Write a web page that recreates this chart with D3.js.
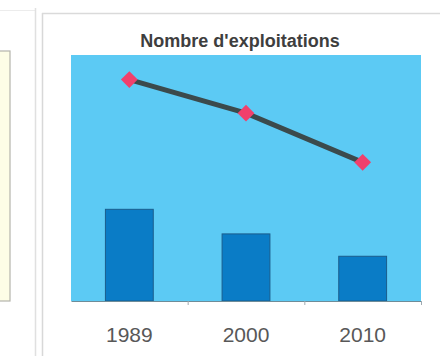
<!DOCTYPE html>
<html>
<head>
<meta charset="utf-8">
<script src="https://cdn.jsdelivr.net/npm/d3@7"></script>
<style>
  html, body { margin: 0; padding: 0; background: #fff; }
  svg { display: block; }
</style>
</head>
<body>
<svg id="chart" width="440" height="356"></svg>
<script>
// Farm counts by census year
const years = ["1989", "2000", "2010"];
const barValues = [41, 30, 20];
const lineValues = [99, 84, 62];
const chartTitle = "Nombre d'exploitations";

const svg = d3.select("#chart");
const W = 440, H = 356;
const plot = { left: 71, right: 421, top: 55, bottom: 301 };

// Neighbouring panel on the left and panel frame
svg.append("line").attr("x1", 0).attr("x2", 35).attr("y1", 10.5).attr("y2", 10.5)
  .attr("stroke", "#ececec").attr("stroke-width", 1);
svg.append("rect")
  .attr("x", -2).attr("y", 51).attr("width", 12).attr("height", 250)
  .attr("fill", "#fdfde6").attr("stroke", "#b4b4ac").attr("stroke-width", 1.2);
svg.append("line").attr("x1", 35.5).attr("x2", 35.5).attr("y1", 8).attr("y2", H)
  .attr("stroke", "#e0e0e0").attr("stroke-width", 1.5);
svg.append("line").attr("x1", 42.5).attr("x2", 42.5).attr("y1", 13).attr("y2", H)
  .attr("stroke", "#d8d8d8").attr("stroke-width", 1.5);
svg.append("line").attr("x1", 42).attr("x2", W).attr("y1", 13.5).attr("y2", 13.5)
  .attr("stroke", "#dadada").attr("stroke-width", 1.5);

const x = d3.scaleBand().domain(years).range([plot.left, plot.right]).paddingInner(0.59).paddingOuter(0.295);
const xc = d3.scalePoint().domain(years).range([plot.left, plot.right]).padding(0.5);
const y = d3.scaleLinear().domain([0, 110]).range([plot.bottom, plot.top]);

// Plot area
svg.append("rect")
  .attr("x", plot.left).attr("y", plot.top)
  .attr("width", plot.right - plot.left).attr("height", plot.bottom - plot.top)
  .attr("fill", "#5ccaf4");

// Bars
svg.append("g").selectAll("rect").data(years).join("rect")
  .attr("x", d => x(d))
  .attr("y", (d, i) => y(barValues[i]))
  .attr("width", x.bandwidth())
  .attr("height", (d, i) => y(0) - y(barValues[i]))
  .attr("fill", "#0a7cc6")
  .attr("stroke", "#1b5d8c").attr("stroke-width", 1);

// Category axis: separators between the years
const axis = d3.axisBottom(d3.scaleLinear().domain([0, 3]).range([plot.left, plot.right]))
  .tickValues([1, 2, 3]).tickSizeInner(4).tickSizeOuter(0).tickFormat("");
const ag = svg.append("g").attr("transform", `translate(0,${plot.bottom})`).call(axis);
ag.select(".domain").attr("stroke", "#6f8c98").attr("stroke-width", 1.2);
ag.selectAll(".tick line").attr("stroke", "#a0aab0");

svg.append("g").selectAll("text").data(years).join("text")
  .attr("x", d => xc(d))
  .attr("y", 342)
  .attr("text-anchor", "middle")
  .attr("font-family", "Liberation Sans, Arial, sans-serif")
  .attr("font-size", 21)
  .attr("fill", "#585858")
  .text(d => d);

// Line series with diamond markers
const line = d3.line().x((d, i) => xc(years[i])).y(d => y(d));
svg.append("path").datum(lineValues)
  .attr("d", line)
  .attr("fill", "none")
  .attr("stroke", "#3b4a4c")
  .attr("stroke-width", 5);

svg.append("g").selectAll("path").data(lineValues).join("path")
  .attr("transform", (d, i) => `translate(${xc(years[i])},${y(d)})`)
  .attr("d", d3.symbol().type(d3.symbolDiamond2).size(180))
  .attr("fill", "#f0406c");

// Title
svg.append("text")
  .attr("x", 240).attr("y", 47)
  .attr("text-anchor", "middle")
  .attr("font-family", "Liberation Sans, Arial, sans-serif")
  .attr("font-size", 18)
  .attr("font-weight", "bold")
  .attr("fill", "#3e3e3e")
  .text(chartTitle);
</script>
</body>
</html>
